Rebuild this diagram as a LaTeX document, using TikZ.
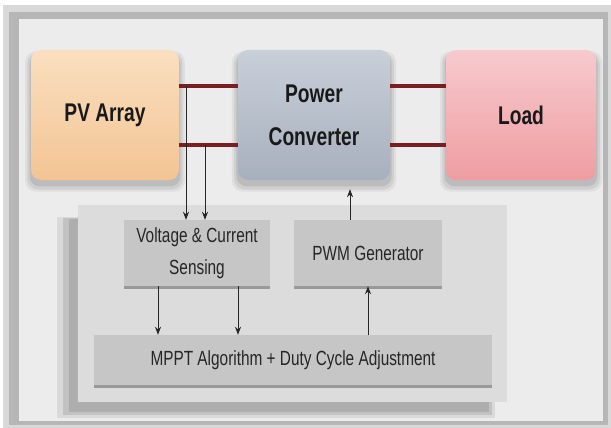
\documentclass[tikz,border=0pt]{standalone}
\usepackage{fontspec}
\newfontfamily\labelfont[FakeStretch=0.75]{Liberation Sans}
\usetikzlibrary{arrows.meta,shadows}
\definecolor{frameband}{HTML}{B6B6B6}
\definecolor{frameedge}{HTML}{D9D9D9}
\definecolor{canvasbg}{HTML}{ECECEC}
\definecolor{panelbg}{HTML}{DCDCDC}
\definecolor{subbox}{HTML}{C6C6C6}
\definecolor{wirered}{HTML}{7A1E23}
\definecolor{pvtop}{HTML}{FADFBF}
\definecolor{pvbot}{HTML}{F3C494}
\definecolor{convtop}{HTML}{C8CFD9}
\definecolor{convbot}{HTML}{A7B0BD}
\definecolor{loadtop}{HTML}{F7CACD}
\definecolor{loadbot}{HTML}{EE9DA2}
\tikzset{
  softshadow/.style={
    drop shadow={shadow xshift=0pt,shadow yshift=-6pt,shadow scale=1.08,opacity=0.05,fill=black},
    drop shadow={shadow xshift=0pt,shadow yshift=-6pt,shadow scale=1.05,opacity=0.07,fill=black},
    drop shadow={shadow xshift=0pt,shadow yshift=-5pt,shadow scale=1.02,opacity=0.09,fill=black}},
  bigbox/.style={rounded corners=10pt,minimum width=150pt,minimum height=130pt,
    align=center,text=black!90,font=\labelfont\bfseries\fontsize{25.6}{43}\selectfont,softshadow},
  smallbox/.style={fill=subbox,minimum height=66pt,align=center,text=black!85,
    font=\labelfont\fontsize{20.5}{32}\selectfont,
    drop shadow={shadow xshift=0pt,shadow yshift=-3pt,opacity=0.3,fill=black}},
  wire/.style={draw=wirered,line width=4pt},
  sig/.style={draw=black!85,line width=0.8pt,-{Stealth[length=8pt,width=6pt]}}
}
\begin{document}
\begin{tikzpicture}[x=1pt,y=-1pt]
\useasboundingbox (0,0) rectangle (611,428);
% frame
\fill[white] (0,0) rectangle (611,428);
\fill[frameedge] (3,5) rectangle (611,428);
\fill[frameband] (9,12) rectangle (608,425);
\fill[canvasbg] (19,19) rectangle (603,421);
% lower panel with its blurred shadow
\node[fill=panelbg,minimum width=429pt,minimum height=197pt,
  drop shadow={shadow xshift=-16pt,shadow yshift=-14pt,shadow scale=1.02,opacity=0.08,fill=black},
  drop shadow={shadow xshift=-15pt,shadow yshift=-13pt,opacity=0.1,fill=black},
  drop shadow={shadow xshift=-14pt,shadow yshift=-12pt,shadow scale=0.98,opacity=0.1,fill=black}]
  (panel) at (292.5,303.5) {};
% main blocks
\node[bigbox,top color=pvtop,bottom color=pvbot,minimum width=148pt] (pv) at (105,115) {PV Array};
\node[bigbox,top color=convtop,bottom color=convbot,minimum width=152pt] (conv) at (314,115) {Power\\Converter};
\node[bigbox,top color=loadtop,bottom color=loadbot] (load) at (521,115) {Load};
% control blocks
\node[smallbox,minimum width=146pt] (sense) at (197,253) {Voltage \& Current\\Sensing};
\node[smallbox,minimum width=148pt] (pwm) at (368,253) {PWM Generator};
\node[smallbox,minimum width=398pt,minimum height=50pt] (mppt) at (293,360) {MPPT Algorithm + Duty Cycle Adjustment};
% power wires
\coordinate (hiwire) at (0,86);
\coordinate (lowire) at (0,145);
\draw[wire] (pv.east |- hiwire) -- (conv.west |- hiwire);
\draw[wire] (pv.east |- lowire) -- (conv.west |- lowire);
\draw[wire] (conv.east |- hiwire) -- (load.west |- hiwire);
\draw[wire] (conv.east |- lowire) -- (load.west |- lowire);
% sensing taps
\coordinate (tapv) at (186,86);
\coordinate (tapi) at (205,145);
\draw[sig] (tapv) -- (tapv |- sense.north);
\draw[sig] (tapi) -- (tapi |- sense.north);
% control signals
\draw[sig] ([xshift=-39pt]sense.south) -- ([xshift=-39pt]sense.south |- mppt.north);
\draw[sig] ([xshift=41pt]sense.south) -- ([xshift=41pt]sense.south |- mppt.north);
\draw[sig] (mppt.north -| pwm.south) -- (pwm.south);
\draw[sig,shorten >=9pt] ([xshift=-18pt]pwm.north) -- ([xshift=-18pt]pwm.north |- conv.south);
\end{tikzpicture}
\end{document}
